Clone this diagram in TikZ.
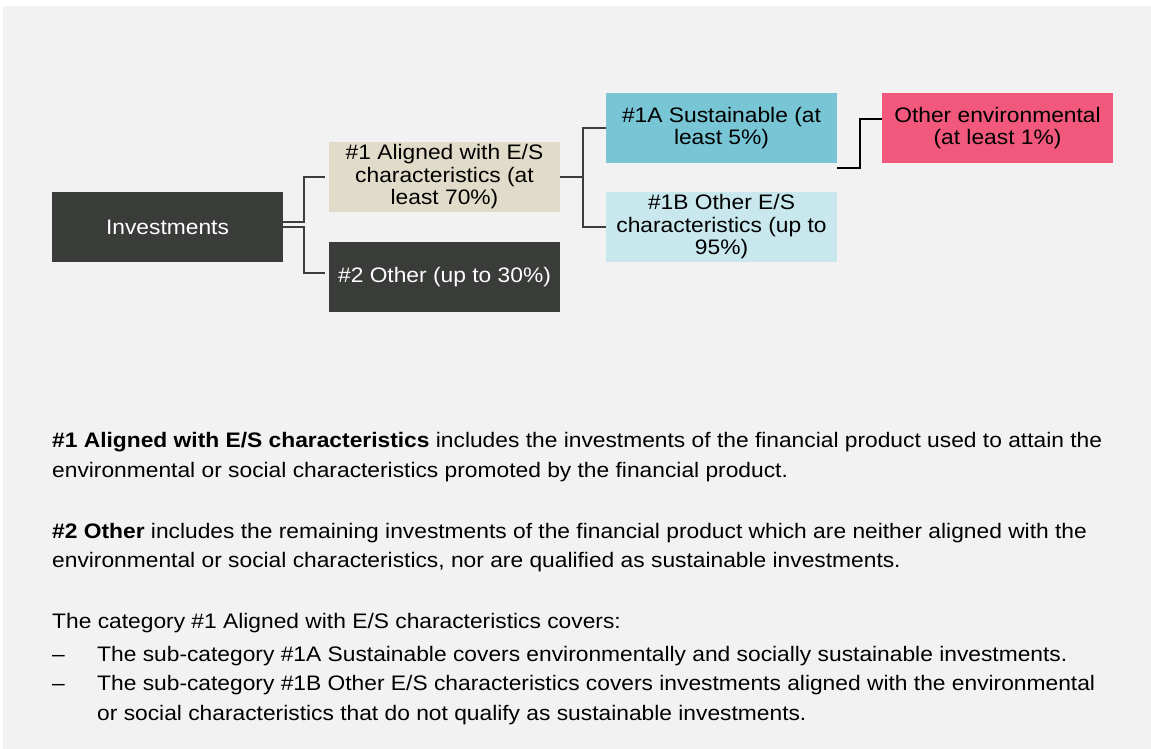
\documentclass[tikz,border=0pt]{standalone}
\usepackage{fontspec}
\setmainfont[FakeStretch=1.085]{Liberation Sans}
\definecolor{bgc}{HTML}{F2F2F2}
\definecolor{darkc}{HTML}{3A3C39}
\definecolor{linec}{HTML}{3D3E3B}
\definecolor{beigec}{HTML}{E1DCC9}
\definecolor{tealc}{HTML}{77C5D5}
\definecolor{lightc}{HTML}{C8E8EE}
\definecolor{pinkc}{HTML}{F2587B}
\begin{document}
\begin{tikzpicture}[x=1pt,y=-1pt,
  box/.style={minimum width=231pt, minimum height=70pt, inner sep=0pt, outer sep=0pt, align=center, font=\fontsize{21}{22.5}\selectfont, anchor=north west},
  darkbox/.style={box, fill=darkc, text=white},
  conn/.style={draw=linec, line width=2.4pt},
  thinconn/.style={draw=black, line width=1.3pt},
  para/.style={anchor=base west, inner sep=0pt, font=\fontsize{21}{22}\selectfont, text=black}]
\useasboundingbox (0,0) rectangle (1151,749);
\fill[bgc] (3,6) rectangle (1151,749);
% boxes
\node[darkbox] (inv) at (52,192) {\raisebox{-1.5pt}{Investments}};
\node[box, fill=beigec] (a1) at (329,142) {\#1 Aligned with E/S\\characteristics (at\\least 70\%)};
\node[darkbox] (o2) at (329,242) {\raisebox{-2pt}{\#2 Other (up to 30\%)}};
\node[box, fill=tealc] (s1a) at (606,93) {\#1A Sustainable (at\\least 5\%)};
\node[box, fill=lightc] (s1b) at (606,192) {\#1B Other E/S\\characteristics (up to\\95\%)};
\node[box, fill=pinkc] (env) at (882,93) {Other environmental\\(at least 1\%)};
% connectors
\draw[conn] ([yshift=5pt]inv.east) -| ([xshift=-25pt]a1.west) -- ([xshift=-4pt]a1.west);
\draw[conn] (inv.east) -| ([xshift=-25pt,yshift=4pt]o2.west) -- ([xshift=-4pt,yshift=4pt]o2.west);
\draw[conn] (s1a.west) -| ([xshift=23pt]a1.east);
\draw[conn] (s1b.west) -| ([xshift=23pt]a1.east) -- (a1.east);
\coordinate (t0) at ([yshift=-5pt]s1a.south east);
\draw[thinconn] (t0) -| ([xshift=-22pt,yshift=9pt]env.west) -- ([yshift=9pt]env.west);
% text
\node[para] (p1a) at (52,447) {\textbf{\#1 Aligned with E/S characteristics} includes the investments of the financial product used to attain the};
\node[para] (p1b) at (52,477) {environmental or social characteristics promoted by the financial product.};
\node[para] (p2a) at (52,538) {\textbf{\#2 Other} includes the remaining investments of the financial product which are neither aligned with the};
\node[para] (p2b) at (52,567) {environmental or social characteristics, nor are qualified as sustainable investments.};
\node[para] (p3) at (52,628) {The category \#1 Aligned with E/S characteristics covers:};
\node[para] (d1) at (52,661) {–};
\node[para] (p4) at (97,661) {The sub-category \#1A Sustainable covers environmentally and socially sustainable investments.};
\node[para] (d2) at (52,690.5) {–};
\node[para] (p5) at (97,690.5) {The sub-category \#1B Other E/S characteristics covers investments aligned with the environmental};
\node[para] (p6) at (97,720) {or social characteristics that do not qualify as sustainable investments.};
\end{tikzpicture}
\end{document}
